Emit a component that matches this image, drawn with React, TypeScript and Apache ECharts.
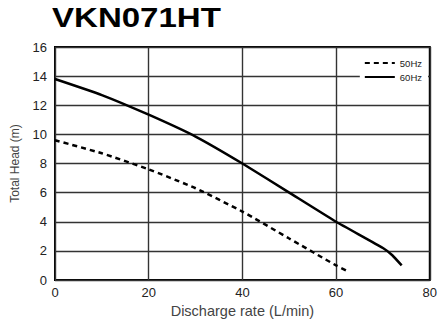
import React, { useEffect, useRef } from "react";
import * as echarts from "echarts";

const title = "VKN071HT";
const q60 = [0, 10, 20, 30, 40, 50, 60, 70, 72, 74];
const h60 = [13.8, 12.7, 11.35, 9.85, 8.0, 6.0, 4.0, 2.2, 1.7, 1.0];
const q50 = [0, 10, 20, 30, 40, 50, 60, 62.5];
const h50 = [9.6, 8.7, 7.6, 6.3, 4.7, 2.85, 1.0, 0.6];
const xName = "Discharge rate (L/min)";
const yName = "Total Head (m)";

export default function App() {
  const ref = useRef<HTMLDivElement>(null);
  useEffect(() => {
    if (!ref.current) return;
    const chart = echarts.init(ref.current, undefined, { renderer: "svg" });
    const font = "Liberation Sans, Arial, sans-serif";
    chart.setOption({
      animation: false,
      backgroundColor: "#fff",
      graphic: [
        {
          type: "text",
          x: 52,
          y: 3,
          scaleX: 1.18,
          style: {
            text: title,
            fontFamily: font,
            fontSize: 28,
            fontWeight: "bold",
            fill: "#000",
          },
        },
      ],
      legend: {
        orient: "vertical",
        right: 12,
        top: 57,
        itemWidth: 30,
        itemHeight: 8,
        itemGap: 4,
        padding: [1, 6, 1, 4],
        backgroundColor: "#fff",
        itemStyle: { opacity: 0 },
        textStyle: { fontFamily: font, fontSize: 9.5, color: "#222" },
        data: ["50Hz", "60Hz"],
      },
      grid: {
        left: 55,
        right: 6,
        top: 47,
        bottom: 45,
        show: true,
        borderColor: "#000",
        borderWidth: 2,
        containLabel: false,
      },
      xAxis: {
        type: "value",
        min: 0,
        max: 80,
        interval: 20,
        name: xName,
        nameLocation: "middle",
        nameGap: 22,
        nameTextStyle: { fontFamily: font, fontSize: 14.5, color: "#444" },
        axisLine: { show: false },
        axisTick: { show: false },
        axisLabel: { fontFamily: font, fontSize: 13, color: "#222", margin: 6 },
        splitLine: { lineStyle: { color: "#333", width: 1.4 } },
      },
      yAxis: {
        type: "value",
        min: 0,
        max: 16,
        interval: 2,
        name: yName,
        nameLocation: "middle",
        nameGap: 34,
        nameTextStyle: { fontFamily: font, fontSize: 12, color: "#444" },
        axisLine: { show: false },
        axisTick: { show: false },
        axisLabel: { fontFamily: font, fontSize: 13, color: "#222", margin: 8 },
        splitLine: { lineStyle: { color: "#333", width: 1.4 } },
      },
      series: [
        {
          name: "50Hz",
          type: "line",
          data: q50.map((q, i) => [q, h50[i]]),
          symbol: "none",
          smooth: 0.15,
          lineStyle: { color: "#000", width: 2.5, type: [5, 4] },
          itemStyle: { color: "#000" },
        },
        {
          name: "60Hz",
          type: "line",
          data: q60.map((q, i) => [q, h60[i]]),
          symbol: "none",
          smooth: 0.15,
          lineStyle: { color: "#000", width: 2.5 },
          itemStyle: { color: "#000" },
        },
      ],
    });
    return () => chart.dispose();
  }, []);
  return <div ref={ref} style={{ width: 440, height: 325, position: "absolute", left: 0, top: 0 }} />;
}
